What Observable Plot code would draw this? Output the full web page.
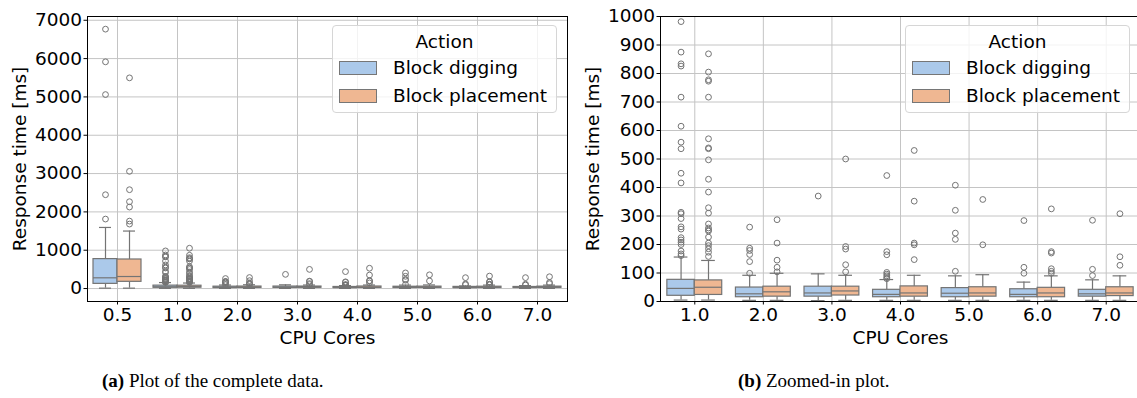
<!DOCTYPE html>
<html>
<head>
<meta charset="utf-8">
<script src="https://cdn.jsdelivr.net/npm/d3@7"></script>
<script src="https://cdn.jsdelivr.net/npm/@observablehq/plot@0.6"></script>
<style>
  html, body { margin: 0; padding: 0; background: #fff; }
  #root { position: relative; width: 1137px; height: 398px; overflow: hidden; background: #fff; font-family: "DejaVu Sans", sans-serif; }
  .panel { position: absolute; top: 0; }
  .legend { position: absolute; width: 225px; height: 88px; border: 1px solid #d6d6d6; border-radius: 4px; background: rgba(255,255,255,0.8); box-sizing: border-box; font-family: "DejaVu Sans", sans-serif; font-size: 18.5px; color: #000; }
  .legend .lt { position: absolute; left: 0; right: 0; top: 5px; text-align: center; line-height: 22px; }
  .legend .sw { position: absolute; left: 6px; width: 38px; height: 14px; box-sizing: border-box; border: 1px solid #767676; }
  .legend .lb { position: absolute; left: 60px; line-height: 22px; white-space: nowrap; }
  .cap { position: absolute; font-family: "Liberation Serif", serif; font-size: 19px; color: #000; white-space: nowrap; line-height: 22px; }
</style>
</head>
<body>
<div id="root"></div>
<script>
// ---------------- data ----------------
const categories = ["0.5", "1.0", "2.0", "3.0", "4.0", "5.0", "6.0", "7.0"];
const actions = ["Block digging", "Block placement"];
const colors = ["#abc9ea", "#efb792"];

// box statistics per category: [lower whisker, q1, median, q3, upper whisker]
const diggingStats = [
  [10, 122, 280, 768, 1594],
  [5, 20, 46, 76, 156],
  [4, 15, 27, 49, 92],
  [3, 17, 30, 52, 97],
  [4, 15, 25, 41, 77],
  [4, 15, 29, 47, 90],
  [4, 15, 25, 43, 68],
  [4, 17, 27, 41, 76]
];
const placementStats = [
  [10, 175, 314, 758, 1500],
  [5, 23, 50, 74, 144],
  [4, 17, 34, 52, 99],
  [4, 21, 37, 52, 92],
  [4, 17, 30, 53, 92],
  [4, 17, 30, 50, 94],
  [4, 15, 30, 48, 90],
  [4, 19, 30, 50, 90]
];
const diggingOutliers = [
  [6768, 5915, 5061, 2448, 1813],
  [982, 875, 834, 826, 717, 615, 559, 536, 450, 416, 313, 308, 291, 262, 254, 224, 216, 208, 200, 177, 167, 161],
  [261, 187, 179, 165, 140, 99],
  [370],
  [442, 175, 164, 102, 96, 90, 84, 80],
  [408, 320, 240, 218, 106],
  [284, 120, 99],
  [285, 113, 91]
];
const placementOutliers = [
  [5497, 3058, 2579, 2266, 2126, 1760, 1682],
  [1052, 869, 805, 778, 773, 717, 571, 539, 536, 497, 429, 384, 329, 310, 272, 258, 251, 247, 226, 205, 196, 185, 173, 158],
  [287, 205, 145, 120, 104],
  [500, 193, 184, 129, 104],
  [530, 352, 205, 199, 147],
  [358, 199],
  [325, 175, 170, 115, 106, 99],
  [308, 157, 127]
];
const leftYTicks = [0, 1000, 2000, 3000, 4000, 5000, 6000, 7000];
const rightYTicks = [0, 100, 200, 300, 400, 500, 600, 700, 800, 900, 1000];

// ---------------- build tables ----------------
const statsByAction = [diggingStats, placementStats];
const outliersByAction = [diggingOutliers, placementOutliers];

function buildRows(cats) {
  const boxes = [], pts = [];
  cats.forEach((c, i) => {
    const ci = categories.indexOf(c);
    actions.forEach((a, ai) => {
      const [low, q1, med, q3, high] = statsByAction[ai][ci];
      const x = i + (ai - 0.5) * 0.4;
      boxes.push({cat: c, action: a, x, low, q1, med, q3, high});
      outliersByAction[ai][ci].forEach(v => pts.push({cat: c, action: a, x, v}));
    });
  });
  return {boxes, pts};
}

const GRAY = "#747474";
const GRID = "#c4c4c4";
const FS = 18.5;

function panel(cats, yDomain, yTicks, opts) {
  const {boxes, pts} = buildRows(cats);
  const idx = d3.range(cats.length);
  const hw = 0.2, cw = 0.1;
  return Plot.plot({
    width: opts.width,
    height: 345,
    marginLeft: opts.marginLeft,
    marginRight: opts.marginRight,
    marginTop: 16,
    marginBottom: 44,
    style: {fontFamily: "DejaVu Sans, sans-serif", fontSize: FS + "px", color: "#000", background: "transparent", overflow: "visible"},
    x: {type: "linear", domain: [-0.5, cats.length - 0.5]},
    y: {domain: yDomain},
    color: {domain: actions, range: colors},
    marks: [
      Plot.gridX(idx, {x: d => d, stroke: GRID, strokeOpacity: 1, strokeWidth: 1}),
      Plot.gridY(yTicks, {y: d => d, stroke: GRID, strokeOpacity: 1, strokeWidth: 1}),
      Plot.ruleX(boxes, {x: "x", y1: "q3", y2: "high", stroke: GRAY, strokeWidth: 1.2, clip: true}),
      Plot.ruleX(boxes, {x: "x", y1: "low", y2: "q1", stroke: GRAY, strokeWidth: 1.2, clip: true}),
      Plot.ruleY(boxes, {y: "high", x1: d => d.x - cw, x2: d => d.x + cw, stroke: GRAY, strokeWidth: 1.2, clip: true}),
      Plot.ruleY(boxes, {y: "low", x1: d => d.x - cw, x2: d => d.x + cw, stroke: GRAY, strokeWidth: 1.2, clip: true}),
      Plot.rect(boxes, {x1: d => d.x - hw, x2: d => d.x + hw, y1: "q1", y2: "q3", fill: "action", stroke: GRAY, strokeWidth: 1.2, clip: true}),
      Plot.ruleY(boxes, {y: "med", x1: d => d.x - hw, x2: d => d.x + hw, stroke: GRAY, strokeWidth: 1.2, clip: true}),
      Plot.dot(pts, {x: "x", y: "v", r: 2.9, stroke: GRAY, strokeWidth: 1, fill: "none", clip: true}),
      Plot.frame({stroke: "#000", strokeWidth: 1}),
      Plot.axisX(idx, {x: d => d, tickFormat: i => cats[i], tickSize: 3.5, tickPadding: 3, fontSize: FS,
        label: "CPU Cores", labelAnchor: "center", labelArrow: "none", labelOffset: 42, stroke: "#000"}),
      Plot.axisY(yTicks, {y: d => d, tickFormat: d => String(d), tickSize: 3.5, tickPadding: 2, fontSize: FS,
        label: "Response time [ms]", labelAnchor: "center", labelArrow: "none", labelOffset: 75, stroke: "#000"})
    ]
  });
}

const root = document.getElementById("root");

const left = panel(categories, [-338, 7098], leftYTicks, {width: 570, marginLeft: 87, marginRight: 3});
left.classList.add("panel");
left.style.left = "0px";
root.appendChild(left);

const right = panel(categories.slice(1), [0, 1000], rightYTicks, {width: 575, marginLeft: 92, marginRight: 3});
right.classList.add("panel");
right.style.left = "568px";
root.appendChild(right);

function legend(leftPx) {
  const lg = document.createElement("div");
  lg.className = "legend";
  lg.style.left = leftPx + "px";
  lg.style.top = "25px";
  const t = document.createElement("div");
  t.className = "lt";
  t.textContent = "Action";
  lg.appendChild(t);
  actions.forEach((a, i) => {
    const sw = document.createElement("div");
    sw.className = "sw";
    sw.style.top = (35 + 28 * i) + "px";
    sw.style.background = colors[i];
    lg.appendChild(sw);
    const lb = document.createElement("div");
    lb.className = "lb";
    lb.style.top = (31 + 28 * i) + "px";
    lb.textContent = a;
    lg.appendChild(lb);
  });
  root.appendChild(lg);
}
legend(332);
legend(905);

function caption(leftPx, letter, text) {
  const c = document.createElement("div");
  c.className = "cap";
  c.style.left = leftPx + "px";
  c.style.top = "370px";
  const b = document.createElement("b");
  b.textContent = "(" + letter + ")";
  c.appendChild(b);
  c.appendChild(document.createTextNode(" " + text));
  root.appendChild(c);
}
caption(102, "a", "Plot of the complete data.");
caption(738, "b", "Zoomed-in plot.");
</script>
</body>
</html>
